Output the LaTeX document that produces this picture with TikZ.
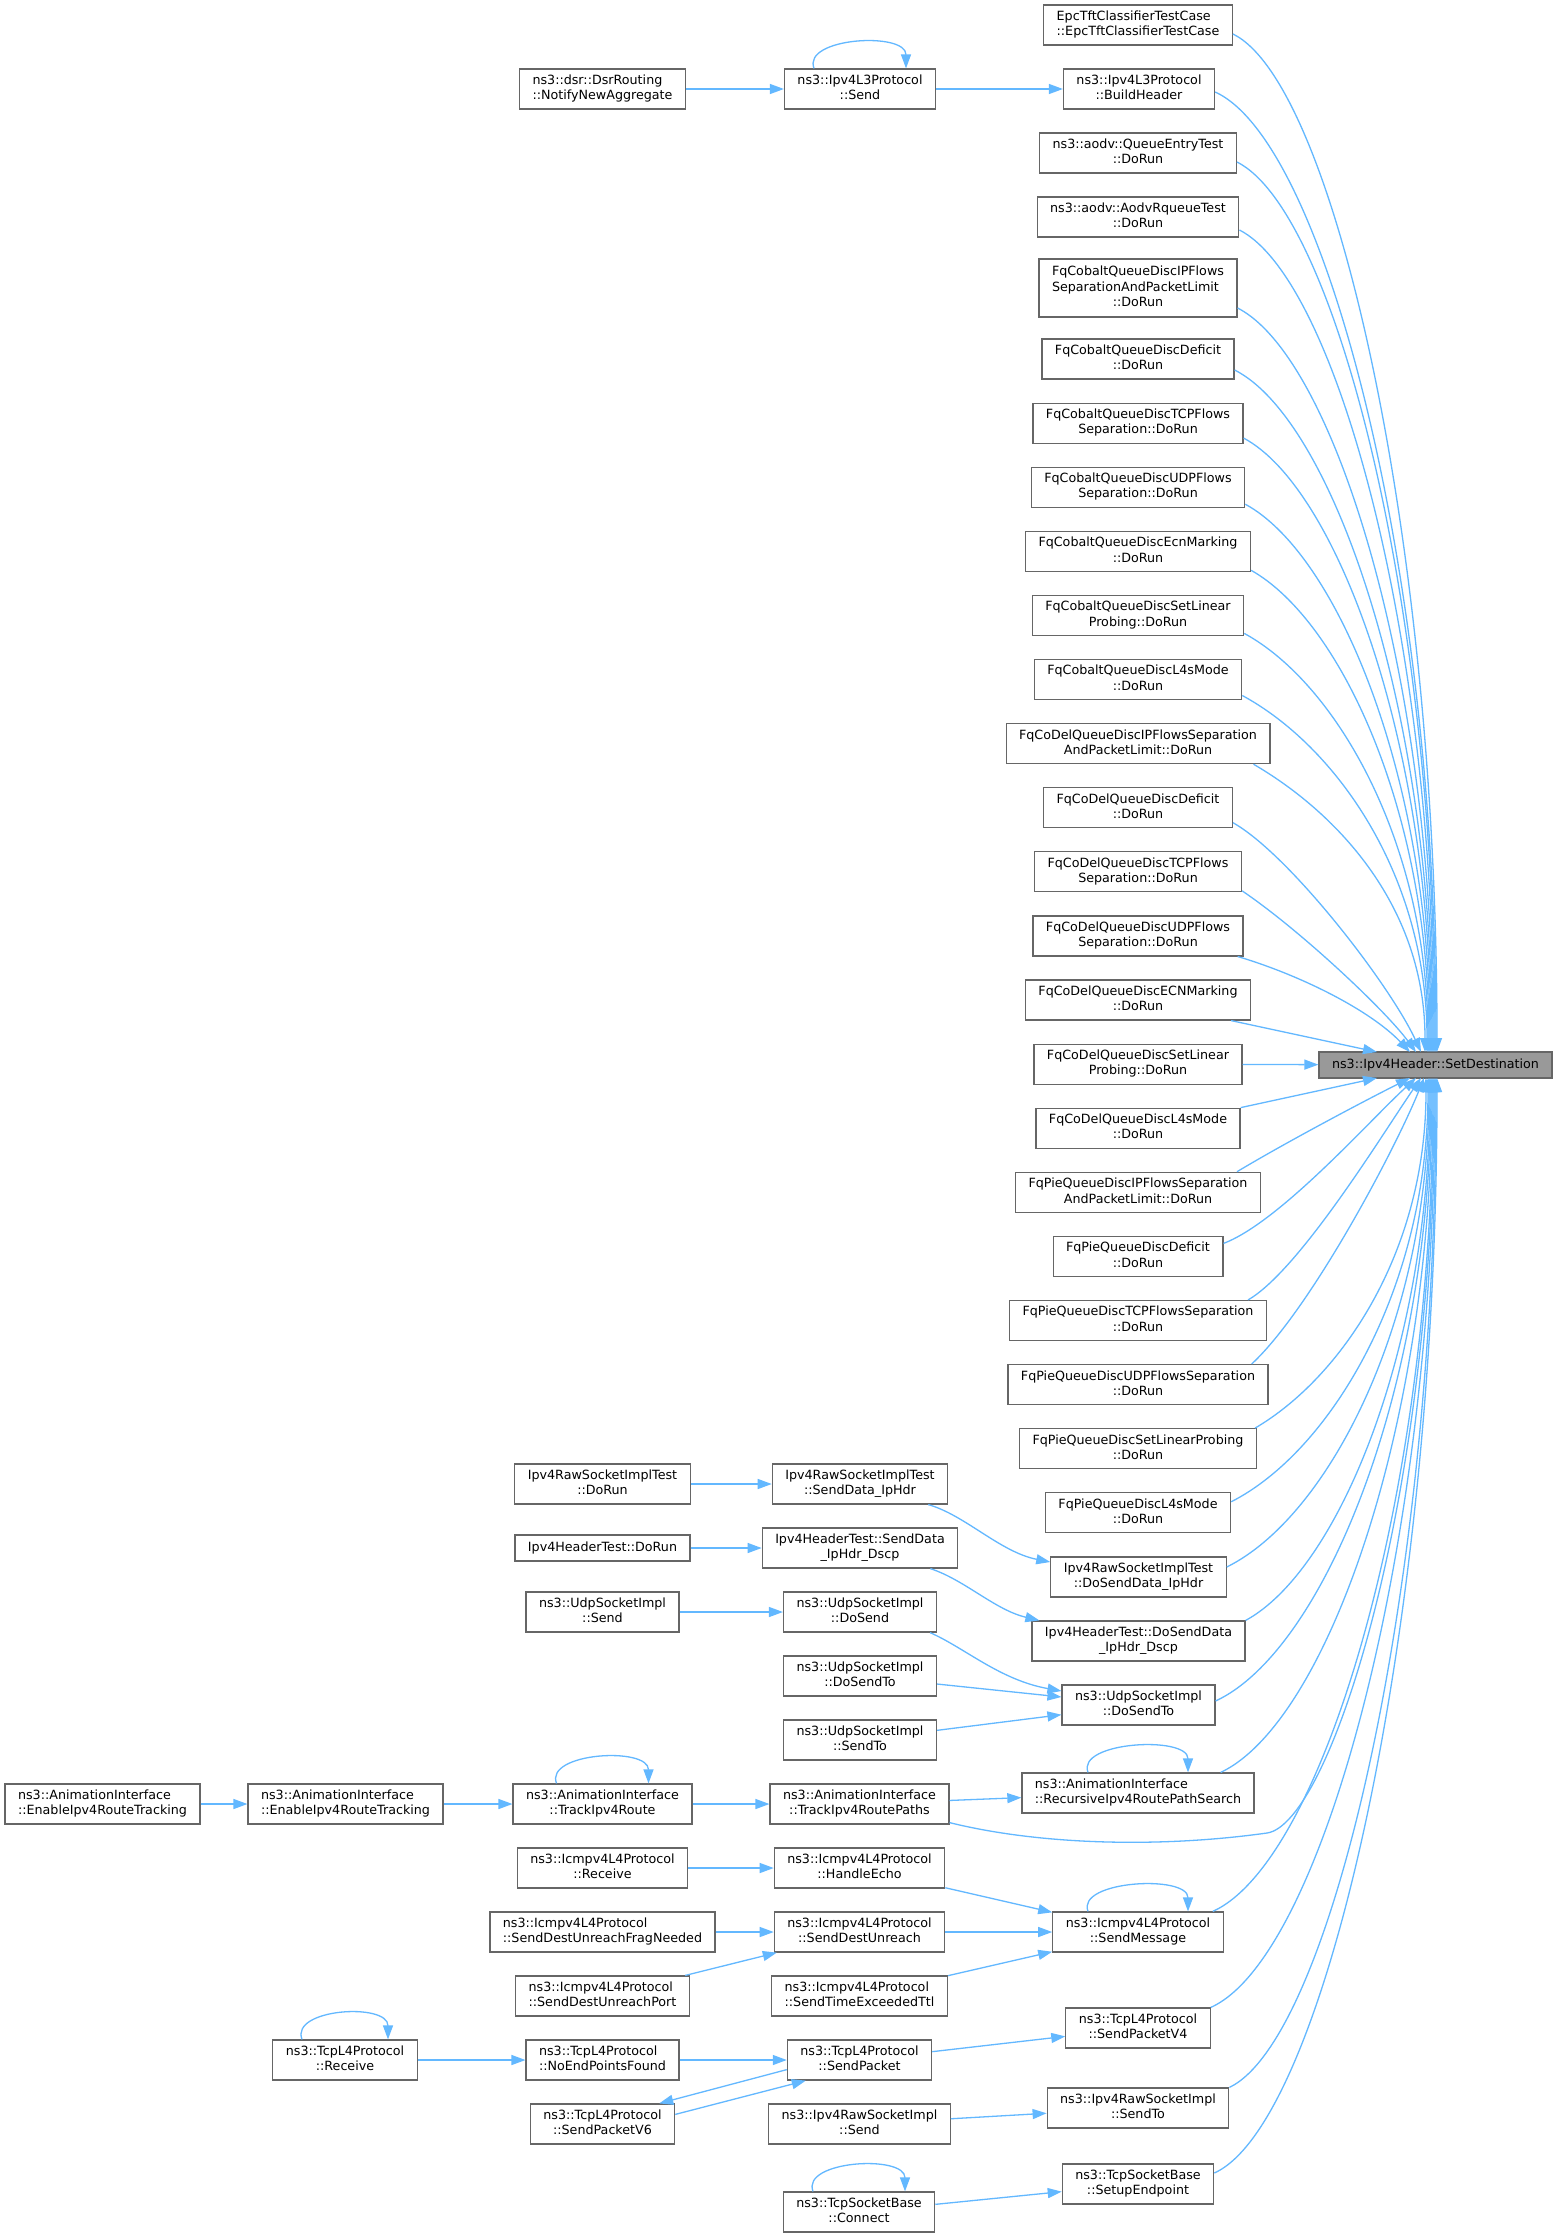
\documentclass[tikz,border=0pt]{standalone}
\usepackage{fontspec}
\setmainfont{DejaVu Sans}
\usetikzlibrary{arrows.meta,calc}
\definecolor{edgeblue}{HTML}{63B8FF}
\definecolor{nodegray}{HTML}{666666}
\definecolor{tgtfill}{HTML}{999999}
\newcommand\twol[2]{\begin{tabular}{@{}l@{}}#1\\\multicolumn{1}{@{}c@{}}{#2}\end{tabular}}
\newcommand\threel[3]{\begin{tabular}{@{}l@{}}#1\\#2\\\multicolumn{1}{@{}c@{}}{#3}\end{tabular}}
\tikzset{
  fn/.style={draw=nodegray, line width=1.2pt, fill=white, inner xsep=13pt, inner ysep=4pt,
    minimum height=40pt, font=\fontsize{12.7}{15.3}\selectfont, text=black},
  fnone/.style={fn, minimum height=26pt},
  fnthree/.style={fn, minimum height=58pt},
  tgtnode/.style={fnone, fill=tgtfill},
  edge/.style={draw=edgeblue, line width=1.3pt, -{Triangle[length=14pt,width=10pt]}}
}
\newcommand\tcd[2]{\draw[edge] let \p1=#1, \p2=#2 in (\p1) .. controls ({\x1+0.5*(\x2-\x1)},{\y1-50pt}) and (\x2,{0.5*(\y1+\y2)}) .. (\p2);}
\newcommand\tcu[2]{\draw[edge] let \p1=#1, \p2=#2 in (\p1) .. controls ({\x1+0.5*(\x2-\x1)},{\y1+50pt}) and (\x2,{0.5*(\y1+\y2)}) .. (\p2);}
\newcommand\selfloop[2]{\draw[edge] ($(#1.north)+(-#2,0)$) .. controls ($(#1.north)+(-#2-12,-31)$) and ($(#1.north)+(#2,-37)$) .. ($(#1.north)+(#2,0)$);}
\begin{document}
\begin{tikzpicture}[x=1pt,y=-1pt]
\fill[white] (0,0) rectangle (1557,2237);
\useasboundingbox (0,0) rectangle (1557,2237);

% target
\node[tgtnode] (tgt) at (1435.5,1065) {ns3::Ipv4Header::SetDestination};

% right column
\node[fn] (r1) at (1138,25) {\twol{EpcTftClassifierTestCase}{::EpcTftClassifierTestCase}};
\node[fn] (r2) at (1139,89) {\twol{ns3::Ipv4L3Protocol}{::BuildHeader}};
\node[fn] (r3) at (1138,153) {\twol{ns3::aodv::QueueEntryTest}{::DoRun}};
\node[fn] (r4) at (1138,217) {\twol{ns3::aodv::AodvRqueueTest}{::DoRun}};
\node[fnthree] (r5) at (1138,288) {\threel{FqCobaltQueueDiscIPFlows}{SeparationAndPacketLimit}{::DoRun}};
\node[fn] (r6) at (1138,359) {\twol{FqCobaltQueueDiscDeficit}{::DoRun}};
\node[fn] (r7) at (1138,423.1) {\twol{FqCobaltQueueDiscTCPFlows}{Separation::DoRun}};
\node[fn] (r8) at (1138,487.2) {\twol{FqCobaltQueueDiscUDPFlows}{Separation::DoRun}};
\node[fn] (r9) at (1138,551.3) {\twol{FqCobaltQueueDiscEcnMarking}{::DoRun}};
\node[fn] (r10) at (1138,615.4) {\twol{FqCobaltQueueDiscSetLinear}{Probing::DoRun}};
\node[fn] (r11) at (1138,679.5) {\twol{FqCobaltQueueDiscL4sMode}{::DoRun}};
\node[fn] (r12) at (1138,743.6) {\twol{FqCoDelQueueDiscIPFlowsSeparation}{AndPacketLimit::DoRun}};
\node[fn] (r13) at (1138,807.7) {\twol{FqCoDelQueueDiscDeficit}{::DoRun}};
\node[fn] (r14) at (1138,871.8) {\twol{FqCoDelQueueDiscTCPFlows}{Separation::DoRun}};
\node[fn] (r15) at (1138,935.9) {\twol{FqCoDelQueueDiscUDPFlows}{Separation::DoRun}};
\node[fn] (r16) at (1138,1000) {\twol{FqCoDelQueueDiscECNMarking}{::DoRun}};
\node[fn] (r17) at (1138,1064.1) {\twol{FqCoDelQueueDiscSetLinear}{Probing::DoRun}};
\node[fn] (r18) at (1138,1128.2) {\twol{FqCoDelQueueDiscL4sMode}{::DoRun}};
\node[fn] (r19) at (1138,1192.3) {\twol{FqPieQueueDiscIPFlowsSeparation}{AndPacketLimit::DoRun}};
\node[fn] (r20) at (1138,1256.4) {\twol{FqPieQueueDiscDeficit}{::DoRun}};
\node[fn] (r21) at (1138,1320.5) {\twol{FqPieQueueDiscTCPFlowsSeparation}{::DoRun}};
\node[fn] (r22) at (1138,1384.6) {\twol{FqPieQueueDiscUDPFlowsSeparation}{::DoRun}};
\node[fn] (r23) at (1138,1448.7) {\twol{FqPieQueueDiscSetLinearProbing}{::DoRun}};
\node[fn] (r24) at (1138,1512.8) {\twol{FqPieQueueDiscL4sMode}{::DoRun}};
\node[fn] (r25) at (1138.5,1577) {\twol{Ipv4RawSocketImplTest}{::DoSendData\_IpHdr}};
\node[fn] (r26) at (1138.5,1641) {\twol{Ipv4HeaderTest::DoSendData}{\_IpHdr\_Dscp}};
\node[fn] (r27) at (1138.5,1705) {\twol{ns3::UdpSocketImpl}{::DoSendTo}};
\node[fn] (r28) at (1138,1793) {\twol{ns3::AnimationInterface}{::RecursiveIpv4RoutePathSearch}};
\node[fn] (r29) at (1138,1932) {\twol{ns3::Icmpv4L4Protocol}{::SendMessage}};
\node[fn] (r30) at (1138,2028) {\twol{ns3::TcpL4Protocol}{::SendPacketV4}};
\node[fn] (r31) at (1138,2108) {\twol{ns3::Ipv4RawSocketImpl}{::SendTo}};
\node[fn] (r32) at (1138,2184) {\twol{ns3::TcpSocketBase}{::SetupEndpoint}};

% middle column
\node[fn] (m1) at (860,89) {\twol{ns3::Ipv4L3Protocol}{::Send}};
\node[fn] (m2) at (860,1484) {\twol{Ipv4RawSocketImplTest}{::SendData\_IpHdr}};
\node[fn] (m3) at (860,1548) {\twol{Ipv4HeaderTest::SendData}{\_IpHdr\_Dscp}};
\node[fn] (m4) at (860,1612) {\twol{ns3::UdpSocketImpl}{::DoSend}};
\node[fn] (m5) at (860,1676) {\twol{ns3::UdpSocketImpl}{::DoSendTo}};
\node[fn] (m6) at (860,1740) {\twol{ns3::UdpSocketImpl}{::SendTo}};
\node[fn] (m7) at (859.5,1804) {\twol{ns3::AnimationInterface}{::TrackIpv4RoutePaths}};
\node[fn] (m8) at (859.5,1868) {\twol{ns3::Icmpv4L4Protocol}{::HandleEcho}};
\node[fn] (m9) at (859.5,1932) {\twol{ns3::Icmpv4L4Protocol}{::SendDestUnreach}};
\node[fn] (m10) at (859.5,1996) {\twol{ns3::Icmpv4L4Protocol}{::SendTimeExceededTtl}};
\node[fn] (m11) at (859.5,2060) {\twol{ns3::TcpL4Protocol}{::SendPacket}};
\node[fn] (m12) at (859.5,2124) {\twol{ns3::Ipv4RawSocketImpl}{::Send}};
\node[fn] (m13) at (859,2212) {\twol{ns3::TcpSocketBase}{::Connect}};

% left-middle column
\node[fn] (l1) at (602.5,89) {\twol{ns3::dsr::DsrRouting}{::NotifyNewAggregate}};
\node[fn] (l2) at (602.5,1484) {\twol{Ipv4RawSocketImplTest}{::DoRun}};
\node[fnone] (l3) at (602.5,1548) {Ipv4HeaderTest::DoRun};
\node[fn] (l4) at (602.5,1612) {\twol{ns3::UdpSocketImpl}{::Send}};
\node[fn] (l5) at (602.5,1804) {\twol{ns3::AnimationInterface}{::TrackIpv4Route}};
\node[fn] (l6) at (602.5,1868) {\twol{ns3::Icmpv4L4Protocol}{::Receive}};
\node[fn] (l7) at (602.5,1932) {\twol{ns3::Icmpv4L4Protocol}{::SendDestUnreachFragNeeded}};
\node[fn] (l8) at (602.5,1996) {\twol{ns3::Icmpv4L4Protocol}{::SendDestUnreachPort}};
\node[fn] (l9) at (602.5,2060) {\twol{ns3::TcpL4Protocol}{::NoEndPointsFound}};
\node[fn] (l10) at (602.5,2124) {\twol{ns3::TcpL4Protocol}{::SendPacketV6}};

% far left
\node[fn] (e2) at (345.5,1804) {\twol{ns3::AnimationInterface}{::EnableIpv4RouteTracking}};
\node[fn] (e1) at (102.5,1804) {\twol{ns3::AnimationInterface}{::EnableIpv4RouteTracking}};
\node[fn] (t1) at (345,2060) {\twol{ns3::TcpL4Protocol}{::Receive}};

% self loops
\selfloop{m1}{46}
\selfloop{l5}{46}
\selfloop{r28}{50}
\selfloop{r29}{50}
\selfloop{t1}{43}
\selfloop{m13}{46}

% straight edges
\draw[edge] (l1) -- (m1);
\draw[edge] (m1) -- (r2);
\draw[edge] (l2) -- (m2);
\draw[edge] (l3) -- (m3);
\draw[edge] (l4) -- (m4);
\draw[edge] (m5) -- (r27);
\draw[edge] (m6) -- (r27);
\draw[edge] (e1) -- (e2);
\draw[edge] (e2) -- (l5);
\draw[edge] (l5) -- (m7);
\draw[edge] (m7) -- (r28);
\draw[edge] (l6) -- (m8);
\draw[edge] (m8) -- (r29);
\draw[edge] (l7) -- (m9);
\draw[edge] (l8) -- (m9);
\draw[edge] (m9) -- (r29);
\draw[edge] (m10) -- (r29);
\draw[edge] (t1) -- (l9);
\draw[edge] (l9) -- (m11);
\draw[edge] (m11) -- (r30);
\draw[edge] ($(m11.south west)+(0,-11)$) -- ($(l10.north east)+(-16,0)$);
\draw[edge] ($(l10.north east)+(0,11)$) -- ($(m11.south west)+(19,0)$);
\draw[edge] (m12) -- (r31);
\draw[edge] (m13) -- (r32);

% curved middle edges
\draw[edge] ($(m2.south east)+(-20,0)$) .. controls (965,1515) and (1000,1552) .. ($(r25.west)+(0,-15)$);
\draw[edge] ($(m3.south east)+(-28,0)$) .. controls (965,1580) and (995,1610) .. ($(r26.north west)+(8,0)$);
\draw[edge] ($(m4.south east)+(-7,0)$) .. controls (965,1648) and (1000,1680) .. ($(r27.west)+(0,-14)$);

% edges into the target
\tcd{($(r1.east)+(0,9)$)}{(1437,1052)}
\tcd{($(r2.east)+(0,3)$)}{(1436,1052)}
\tcd{($(r3.east)+(0,9)$)}{(1435,1052)}
\tcd{($(r4.east)+(0,13)$)}{(1434,1052)}
\tcd{($(r5.east)+(0,20)$)}{(1433,1052)}
\tcd{($(r6.east)+(0,11)$)}{(1432,1052)}
\tcd{($(r7.east)+(0,15)$)}{(1431,1052)}
\tcd{($(r8.east)+(0,17)$)}{(1430,1052)}
\tcd{($(r9.east)+(0,19)$)}{(1429,1052)}
\tcd{($(r10.east)+(0,18)$)}{(1428,1052)}
\tcd{($(r11.east)+(0,16)$)}{(1427,1052)}
\tcd{($(r12.south east)+(-17,0)$)}{(1425,1052)}
\draw[edge] ($(r13.east)+(0,15)$) .. controls (1290,855) and (1390,985) .. (1421,1052);
\draw[edge] ($(r14.east)+(0,19)$) .. controls (1300,930) and (1385,1010) .. (1416,1052);
\draw[edge] ($(r15.south east)+(-6,0)$) .. controls (1300,975) and (1370,1010) .. (1410,1052);
\draw[edge] ($(r16.south east)+(-20,0)$) -- (1377,1052);
\draw[edge] (r17) -- (tgt);
\draw[edge] (r18.north east) -- (1377,1078);
\draw[edge] ($(r19.north east)+(-24,0)$) .. controls (1290,1140) and (1370,1098) .. (1410,1078);
\draw[edge] ($(r20.east)+(0,-13)$) .. controls (1280,1222) and (1370,1120) .. (1416,1078);
\draw[edge] ($(r21.north east)+(-19,0)$) .. controls (1300,1270) and (1385,1130) .. (1421,1078);
\draw[edge] ($(r22.north east)+(-17,0)$) .. controls (1310,1310) and (1395,1150) .. (1424,1078);
\tcu{($(r23.north east)+(-2,0)$)}{(1426,1078)}
\tcu{($(r24.east)+(0,-11)$)}{(1428,1078)}
\tcu{($(r25.east)+(0,-10)$)}{(1429,1078)}
\tcu{(r26.north east)}{(1430,1078)}
\tcu{($(r27.east)+(0,-4)$)}{(1431,1078)}
\tcu{($(r28.north east)+(-34,0)$)}{(1432,1078)}
\tcu{($(r29.north east)+(-11,0)$)}{(1433,1078)}
\tcu{(r30.north east)}{(1435,1078)}
\tcu{(r31.north east)}{(1436,1078)}
\tcu{($(r32.east)+(0,-11)$)}{(1437,1078)}
\draw[edge] ($(m7.south east)+(0,-2)$) .. controls (1040,1845) and (1160,1848) .. (1267,1833) .. controls (1330,1824) and (1434,1500) .. (1434,1078);
\end{tikzpicture}
\end{document}
